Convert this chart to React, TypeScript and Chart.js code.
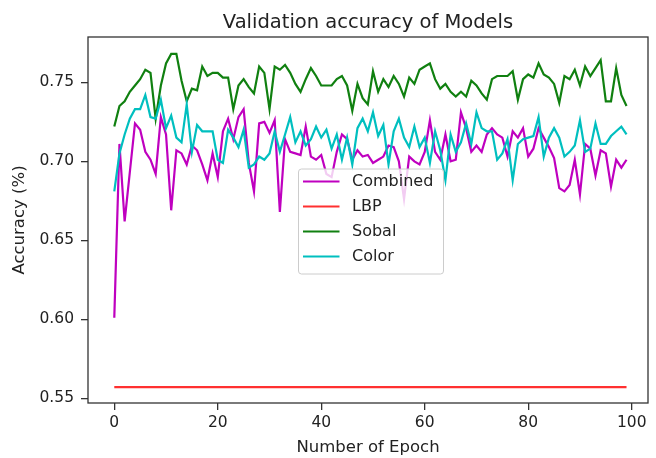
import { useEffect, useRef } from "react";
import { Chart, registerables } from "chart.js";

Chart.register(...registerables);

const chartTitle = "Validation accuracy of Models";
const xTitle = "Number of Epoch";
const yTitle = "Accuracy (%)";

const seriesNames = ["Combined", "LBP", "Sobal", "Color"];
const seriesColors = ["#bf00bf", "#ff3030", "#108010", "#00bfbf"];

const xTicks = [0, 20, 40, 60, 80, 100];
const yTicks = [0.55, 0.6, 0.65, 0.7, 0.75];

const combined = [
  0.601, 0.711, 0.662, 0.693, 0.724, 0.72, 0.706, 0.701, 0.692, 0.728,
  0.717, 0.669, 0.707, 0.705, 0.698, 0.71, 0.707, 0.698, 0.688, 0.705,
  0.69, 0.719, 0.727, 0.714, 0.728, 0.733, 0.699, 0.681, 0.724, 0.725,
  0.718, 0.726, 0.668, 0.714, 0.706, 0.705, 0.704, 0.722, 0.703, 0.701,
  0.704, 0.692, 0.69, 0.706, 0.717, 0.714, 0.701, 0.707, 0.703, 0.704,
  0.699, 0.701, 0.703, 0.71, 0.709, 0.7, 0.676, 0.703, 0.7, 0.698,
  0.706, 0.726, 0.706, 0.701, 0.717, 0.7, 0.701, 0.731, 0.721, 0.706,
  0.71, 0.706, 0.717, 0.721, 0.717, 0.715, 0.703, 0.719, 0.715, 0.721,
  0.703, 0.708, 0.721, 0.715, 0.709, 0.702, 0.683, 0.681, 0.685, 0.701,
  0.679, 0.711, 0.708, 0.691, 0.707, 0.705, 0.684, 0.701, 0.696, 0.701,
];

const lbp = [
  0.557, 0.557, 0.557, 0.557, 0.557, 0.557, 0.557, 0.557, 0.557, 0.557,
  0.557, 0.557, 0.557, 0.557, 0.557, 0.557, 0.557, 0.557, 0.557, 0.557,
  0.557, 0.557, 0.557, 0.557, 0.557, 0.557, 0.557, 0.557, 0.557, 0.557,
  0.557, 0.557, 0.557, 0.557, 0.557, 0.557, 0.557, 0.557, 0.557, 0.557,
  0.557, 0.557, 0.557, 0.557, 0.557, 0.557, 0.557, 0.557, 0.557, 0.557,
  0.557, 0.557, 0.557, 0.557, 0.557, 0.557, 0.557, 0.557, 0.557, 0.557,
  0.557, 0.557, 0.557, 0.557, 0.557, 0.557, 0.557, 0.557, 0.557, 0.557,
  0.557, 0.557, 0.557, 0.557, 0.557, 0.557, 0.557, 0.557, 0.557, 0.557,
  0.557, 0.557, 0.557, 0.557, 0.557, 0.557, 0.557, 0.557, 0.557, 0.557,
  0.557, 0.557, 0.557, 0.557, 0.557, 0.557, 0.557, 0.557, 0.557, 0.557,
];

const sobal = [
  0.722, 0.735, 0.738, 0.744, 0.748, 0.752, 0.758, 0.756, 0.727, 0.748,
  0.762, 0.768, 0.768, 0.751, 0.738, 0.746, 0.745, 0.76, 0.754, 0.756,
  0.756, 0.753, 0.753, 0.733, 0.748, 0.752, 0.747, 0.743, 0.76, 0.756,
  0.733, 0.76, 0.758, 0.761, 0.756, 0.749, 0.744, 0.752, 0.759, 0.754,
  0.748, 0.748, 0.748, 0.752, 0.754, 0.748, 0.732, 0.749, 0.74, 0.736,
  0.757, 0.744, 0.752, 0.747, 0.754, 0.749, 0.741, 0.753, 0.749, 0.758,
  0.76, 0.762, 0.752, 0.746, 0.749, 0.744, 0.741, 0.744, 0.741, 0.751,
  0.748, 0.743, 0.739, 0.752, 0.754, 0.754, 0.754, 0.757, 0.739, 0.752,
  0.755, 0.753, 0.762, 0.755, 0.753, 0.749, 0.737, 0.754, 0.752, 0.758,
  0.748, 0.76, 0.754, 0.759, 0.764, 0.738, 0.738, 0.759, 0.742, 0.735,
];

const color = [
  0.681, 0.705, 0.717, 0.727, 0.733, 0.733, 0.742, 0.728, 0.727, 0.739,
  0.721, 0.729, 0.715, 0.712, 0.736, 0.706, 0.723, 0.719, 0.719, 0.719,
  0.701, 0.699, 0.72, 0.715, 0.709, 0.72, 0.696, 0.698, 0.703, 0.701,
  0.705, 0.719, 0.706, 0.717, 0.728, 0.712, 0.719, 0.71, 0.714, 0.722,
  0.715, 0.72, 0.708, 0.717, 0.701, 0.715, 0.698, 0.721, 0.727, 0.719,
  0.731, 0.716, 0.723, 0.698, 0.719, 0.727, 0.715, 0.709, 0.722, 0.709,
  0.715, 0.699, 0.719, 0.707, 0.688, 0.717, 0.706, 0.712, 0.724, 0.711,
  0.731, 0.721, 0.719, 0.719, 0.701, 0.705, 0.714, 0.688, 0.711, 0.714,
  0.715, 0.716, 0.728, 0.703, 0.715, 0.721, 0.715, 0.703, 0.706, 0.71,
  0.726, 0.706, 0.708, 0.724, 0.711, 0.711, 0.716, 0.719, 0.722, 0.717,
];

const seriesValues = [combined, lbp, sobal, color];
const epochs = combined.map((_, i) => i);

const FONT = '"DejaVu Sans", "Liberation Sans", sans-serif';
const TEXT = "#222222";
const AXIS = "#333333";

const overlayPlugin = {
  id: "overlay",
  afterDatasetsDraw(chart: any) {
    const { ctx, chartArea: a } = chart;
    ctx.save();

    // legend (matplotlib-style, centered in the axes)
    const boxW = 145;
    const boxH = 105;
    const cx = (a.left + a.right) / 2 + 3;
    const cy = (a.top + a.bottom) / 2 + 1.5;
    const bx = cx - boxW / 2;
    const by = cy - boxH / 2;
    ctx.beginPath();
    const r = 3;
    ctx.moveTo(bx + r, by);
    ctx.lineTo(bx + boxW - r, by);
    ctx.arcTo(bx + boxW, by, bx + boxW, by + r, r);
    ctx.lineTo(bx + boxW, by + boxH - r);
    ctx.arcTo(bx + boxW, by + boxH, bx + boxW - r, by + boxH, r);
    ctx.lineTo(bx + r, by + boxH);
    ctx.arcTo(bx, by + boxH, bx, by + boxH - r, r);
    ctx.lineTo(bx, by + r);
    ctx.arcTo(bx, by, bx + r, by, r);
    ctx.closePath();
    ctx.fillStyle = "rgba(255,255,255,0.8)";
    ctx.fill();
    ctx.strokeStyle = "#cccccc";
    ctx.lineWidth = 1;
    ctx.stroke();

    ctx.font = `16px ${FONT}`;
    ctx.textAlign = "left";
    ctx.textBaseline = "middle";
    seriesNames.forEach((name, i) => {
      const ry = by + 12.5 + i * 25;
      ctx.strokeStyle = seriesColors[i];
      ctx.lineWidth = 2.2;
      ctx.beginPath();
      ctx.moveTo(bx + 4.5, ry);
      ctx.lineTo(bx + 41, ry);
      ctx.stroke();
      ctx.fillStyle = TEXT;
      ctx.fillText(name, bx + 53.5, ry + 0.5);
    });

    // axes frame
    ctx.strokeStyle = AXIS;
    ctx.lineWidth = 1.3;
    ctx.strokeRect(a.left, a.top, a.right - a.left, a.bottom - a.top);

    // title
    ctx.fillStyle = TEXT;
    ctx.font = `19.5px ${FONT}`;
    ctx.textAlign = "center";
    ctx.textBaseline = "alphabetic";
    ctx.fillText(chartTitle, (a.left + a.right) / 2, 28);
    ctx.restore();
  },
};

export default function App() {
  const ref = useRef<HTMLCanvasElement | null>(null);

  useEffect(() => {
    if (!ref.current) return;
    const datasets = seriesNames.map((name, i) => ({
      label: name,
      data: epochs.map((e) => ({ x: e, y: seriesValues[i][e] })),
      borderColor: seriesColors[i],
      backgroundColor: seriesColors[i],
      borderWidth: 2.2,
      pointRadius: 0,
      pointHoverRadius: 0,
      tension: 0,
      fill: false,
      order: seriesNames.length - i,
    }));

    const chart = new Chart(ref.current, {
      type: "line",
      data: { datasets },
      options: {
        animation: false,
        responsive: false,
        devicePixelRatio: 1,
        layout: { padding: { top: 37, right: 8, left: 0, bottom: 0 } },
        plugins: {
          legend: { display: false },
          title: { display: false },
          tooltip: { enabled: false },
        },
        scales: {
          x: {
            type: "linear",
            min: -5.08,
            max: 103.15,
            afterFit: (s: any) => {
              s.height = 55;
            },
            afterBuildTicks: (s: any) => {
              s.ticks = xTicks.map((v) => ({ value: v }));
            },
            grid: {
              display: true,
              drawOnChartArea: false,
              drawTicks: true,
              tickLength: 7,
              color: AXIS,
              lineWidth: 1.3,
            },
            border: { display: false },
            ticks: {
              color: TEXT,
              font: { family: FONT, size: 15.5 },
              padding: 4,
              maxRotation: 0,
              callback: (v: any) => String(v),
            },
            title: {
              display: true,
              text: xTitle,
              color: TEXT,
              font: { family: FONT, size: 16.5 },
              padding: { top: 0, bottom: 0 },
            },
          },
          y: {
            type: "linear",
            min: 0.547,
            max: 0.7787,
            afterFit: (s: any) => {
              s.width = 88;
            },
            afterBuildTicks: (s: any) => {
              s.ticks = yTicks.map((v) => ({ value: v }));
            },
            grid: {
              display: true,
              drawOnChartArea: false,
              drawTicks: true,
              tickLength: 7,
              color: AXIS,
              lineWidth: 1.3,
            },
            border: { display: false },
            ticks: {
              color: TEXT,
              font: { family: FONT, size: 15.5 },
              padding: 7,
              callback: (v: any) => Number(v).toFixed(2),
            },
            title: {
              display: true,
              text: yTitle,
              color: TEXT,
              font: { family: FONT, size: 16.5 },
              padding: { top: 10, bottom: 0 },
            },
          },
        },
      },
      plugins: [overlayPlugin],
    });
    return () => chart.destroy();
  }, []);

  return (
    <div style={{ position: "absolute", left: 0, top: 0, width: 656, height: 458, background: "#ffffff" }}>
      <canvas ref={ref} width={656} height={458} style={{ display: "block" }} />
    </div>
  );
}
